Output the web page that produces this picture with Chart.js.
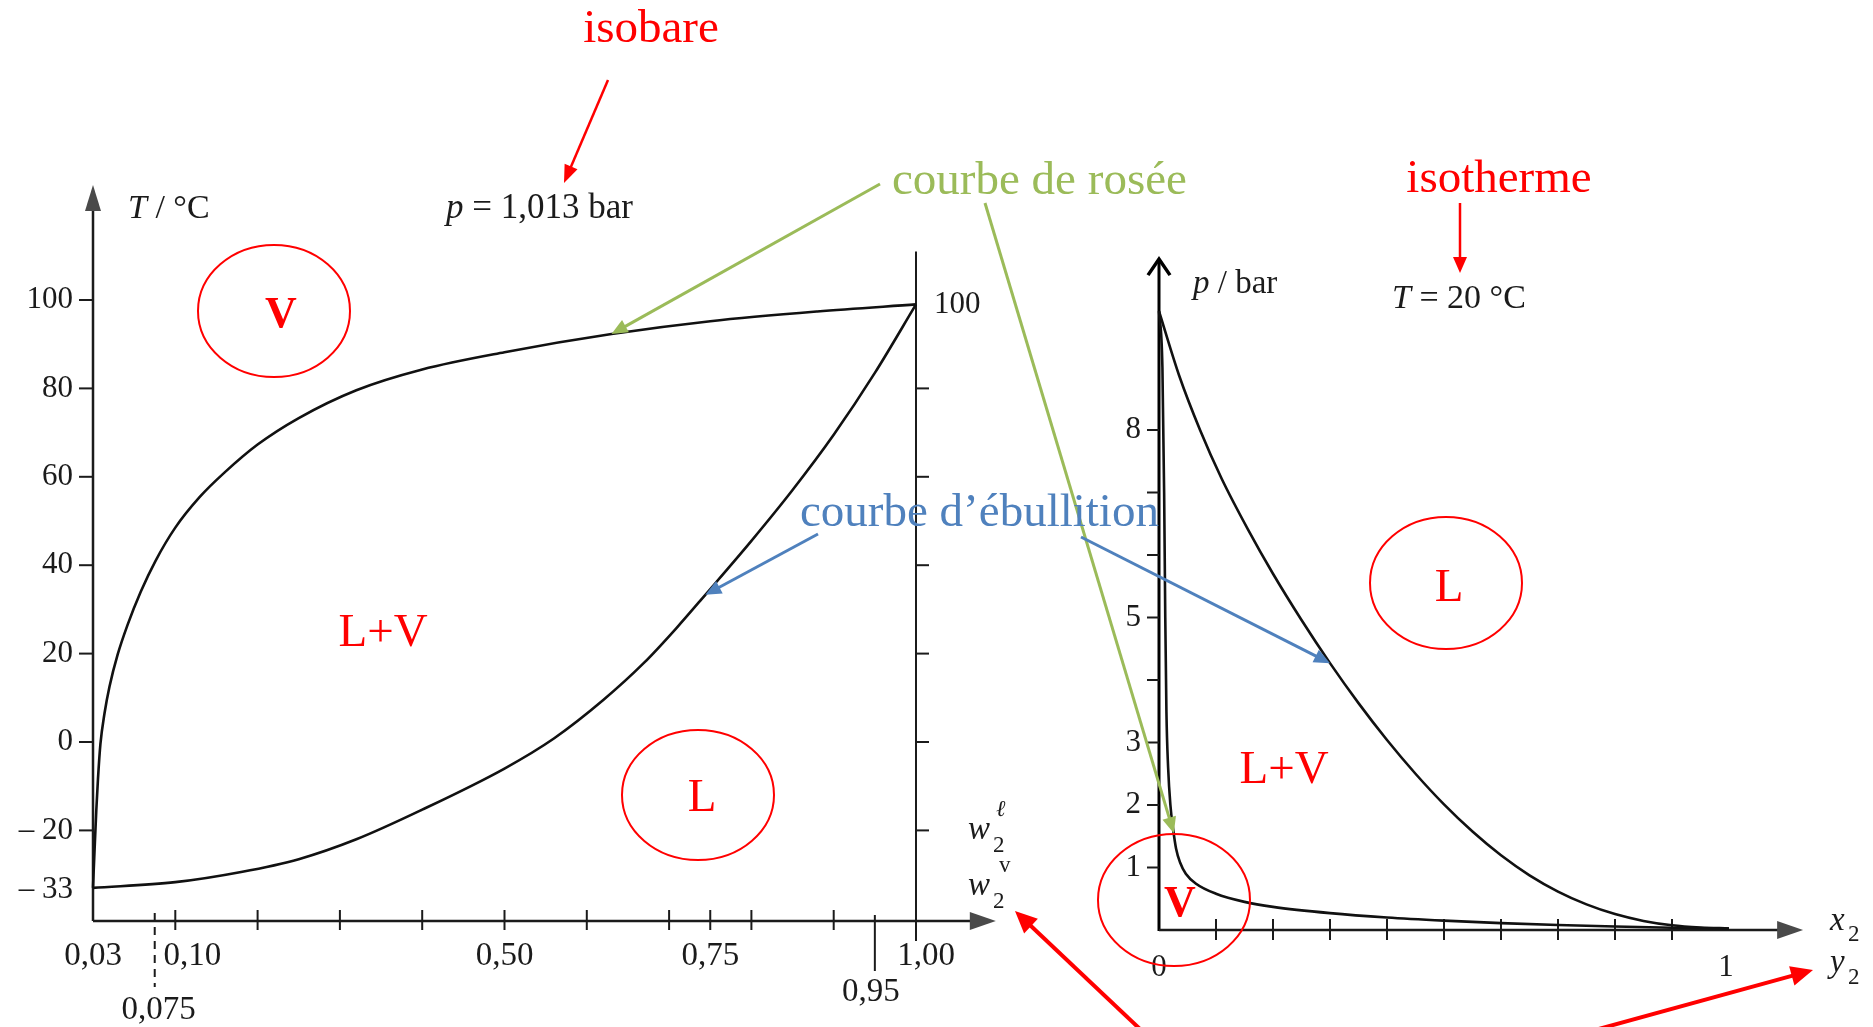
<!DOCTYPE html>
<html lang="fr">
<head>
<meta charset="utf-8">
<title>NH3 / H2O : isobare et isotherme</title>
<script src="https://cdn.jsdelivr.net/npm/chart.js@4.4.1/dist/chart.umd.min.js"></script>
<style>
  html, body { margin: 0; padding: 0; background: #fff; }
  #diagram { display: block; }
</style>
</head>
<body>
<canvas id="diagram" width="1873" height="1027"></canvas>
<script>
// Isobar p = 1,013 bar: water mass fraction w2 against temperature (°C)
const dewW2 = [0, 0.002, 0.004, 0.006, 0.009, 0.014, 0.02, 0.03, 0.042, 0.058, 0.076, 0.1, 0.13, 0.16, 0.2, 0.25, 0.32, 0.4, 0.5, 0.63, 0.75, 0.88, 1.0];
const dewT = [-33, -24, -15.5, -8.5, -0.5, 6.5, 12.5, 19.8, 26.5, 34, 41, 48.5, 55.5, 61, 67.3, 73.3, 79.6, 84.3, 88.2, 92.3, 95.2, 97.4, 99];
const bubbleW2 = [0, 0.1, 0.18, 0.25, 0.32, 0.4, 0.5, 0.56, 0.62, 0.67, 0.71, 0.744, 0.8, 0.85, 0.9, 0.95, 1.0];
const bubbleT = [-33, -31.7, -29.4, -26.5, -22, -15.3, -6, 0.8, 9.5, 18, 26, 33.3, 45.5, 57, 69.5, 83.5, 99];

// Isotherm T = 20 °C: mole fraction x2 / y2 against pressure (bar)
const dewY2 = [0, 0.006, 0.009, 0.011, 0.013, 0.016, 0.02, 0.025, 0.03, 0.037, 0.047, 0.065, 0.1, 0.15, 0.2, 0.3, 0.4, 0.5, 0.6, 0.7, 0.8, 0.9, 1.0];
const dewP = [9.9, 9.0, 7.0, 5.0, 3.5, 2.6, 2.0, 1.6, 1.3, 1.08, 0.9, 0.74, 0.58, 0.45, 0.37, 0.27, 0.2, 0.15, 0.11, 0.08, 0.055, 0.035, 0.023];
const bubbleX2 = [0, 0.035, 0.072, 0.11, 0.156, 0.2, 0.25, 0.3, 0.35, 0.4, 0.45, 0.5, 0.55, 0.6, 0.65, 0.7, 0.75, 0.8, 0.85, 0.9, 0.95, 1.0];
const bubbleP = [9.9, 8.88, 8.0, 7.22, 6.41, 5.7, 4.96, 4.27, 3.63, 3.04, 2.5, 2.01, 1.575, 1.195, 0.875, 0.615, 0.41, 0.255, 0.145, 0.075, 0.04, 0.025];

// graduations of the isobar
const tempTicks = [100, 80, 60, 40, 20, 0, -20];
const tempLabels = ['100', '80', '60', '40', '20', '0', '\u2013 20'];
const tempWallTicks = [80, 60, 40, 20, 0, -20];
const w2Ticks = [0.1, 0.2, 0.3, 0.4, 0.5, 0.6, 0.7, 0.75, 0.8, 0.9];
const w2LabelValues = [0, 0.1, 0.5, 0.75, 1.0];
const w2Labels = ['0,03', '0,10', '0,50', '0,75', '1,00'];

// graduations of the isotherm
const pTicks = [1, 2, 3, 4, 5, 6, 7, 8];
const pLabelValues = [1, 2, 3, 5, 8];
const pLabels = ['1', '2', '3', '5', '8'];
const x2Ticks = [0.1, 0.2, 0.3, 0.4, 0.5, 0.6, 0.7, 0.8, 0.9];
const x2LabelValues = [0, 1];
const x2Labels = ['0', '1'];

const canvas = document.getElementById('diagram');
const W = canvas.width, H = canvas.height;
const SERIF = '"Liberation Serif", "Times New Roman", serif';
const INK = '#1b1b1b';
const RED = '#ff0000', GREEN = '#9bbb59', BLUE = '#4f81bd';

// page placement: two pixel positions and the values they stand for
const isobarFrame = { px: [93, 916], w: [0, 1], py: [742, 300], t: [0, 100] };
const isothermFrame = { px: [1159, 1729], x: [0, 1], py: [930, 430], p: [0, 8] };
const isobarAxes = { tBottom: -40.5, tTop: 126, wEnd: 1.097, wallTop: 111, wallBottom: -45 };
const isothermAxes = { pTop: 10.75, xEnd: 1.13 };

function spanFor(p, v, size) {
  const k = (v[1] - v[0]) / (p[1] - p[0]);
  return { atStart: v[0] - p[0] * k, atEnd: v[0] + (size - p[0]) * k };
}
const x1Span = spanFor(isobarFrame.px, isobarFrame.w, W);
const y1Span = spanFor(isobarFrame.py, isobarFrame.t, H);
const x2Span = spanFor(isothermFrame.px, isothermFrame.x, W);
const y2Span = spanFor(isothermFrame.py, isothermFrame.p, H);

const toPoints = (xs, ys) => xs.map((x, i) => ({ x: x, y: ys[i] }));

// ---- small drawing helpers ----
function put(ctx, str, x, y, size, o) {
  o = o || {};
  ctx.save();
  ctx.font = (o.italic ? 'italic ' : '') + (o.bold ? 'bold ' : '') + size + 'px ' + SERIF;
  ctx.fillStyle = o.color || INK;
  ctx.textAlign = o.align || 'left';
  ctx.textBaseline = 'middle';
  ctx.fillText(str, x, y);
  ctx.restore();
}

function putRuns(ctx, parts, x, y, size) {
  let cx = x;
  parts.forEach(function (part) {
    ctx.save();
    ctx.font = (part[1] ? 'italic ' : '') + size + 'px ' + SERIF;
    ctx.fillStyle = INK;
    ctx.textBaseline = 'middle';
    ctx.fillText(part[0], cx, y);
    cx += ctx.measureText(part[0]).width;
    ctx.restore();
  });
}

function seg(ctx, x0, y0, x1, y1, width, color, dash) {
  ctx.save();
  ctx.strokeStyle = color;
  ctx.lineWidth = width;
  ctx.setLineDash(dash || []);
  ctx.beginPath();
  ctx.moveTo(x0, y0);
  ctx.lineTo(x1, y1);
  ctx.stroke();
  ctx.restore();
}

function head(ctx, x0, y0, x1, y1, len, half, color) {
  const a = Math.atan2(y1 - y0, x1 - x0);
  const c = Math.cos(a), s = Math.sin(a);
  ctx.save();
  ctx.fillStyle = color;
  ctx.beginPath();
  ctx.moveTo(x1, y1);
  ctx.lineTo(x1 - len * c + half * s, y1 - len * s - half * c);
  ctx.lineTo(x1 - len * c - half * s, y1 - len * s + half * c);
  ctx.closePath();
  ctx.fill();
  ctx.restore();
}

function arrow(ctx, x0, y0, x1, y1, width, color, len, half) {
  const a = Math.atan2(y1 - y0, x1 - x0);
  seg(ctx, x0, y0, x1 - len * 0.7 * Math.cos(a), y1 - len * 0.7 * Math.sin(a), width, color);
  head(ctx, x0, y0, x1, y1, len, half, color);
}

function ring(ctx, cx, cy, rx, ry) {
  ctx.save();
  ctx.strokeStyle = RED;
  ctx.lineWidth = 2;
  ctx.beginPath();
  ctx.ellipse(cx, cy, rx, ry, 0, 0, Math.PI * 2);
  ctx.stroke();
  ctx.restore();
}

// ---- axes of the isobar (T against w2) ----
function drawIsobarAxes(chart) {
  const ctx = chart.ctx;
  const X = v => chart.scales.x1.getPixelForValue(v);
  const Y = v => chart.scales.y1.getPixelForValue(v);
  const x0 = X(0), xEnd = X(isobarAxes.wEnd);
  const yBase = Y(isobarAxes.tBottom), yTop = Y(isobarAxes.tTop);

  seg(ctx, x0, yBase, x0, yTop + 18, 2.5, INK);
  head(ctx, x0, yBase, x0, yTop, 26, 8, '#4a4a4a');
  seg(ctx, x0, yBase, xEnd - 18, yBase, 2.5, INK);
  head(ctx, x0, yBase, xEnd, yBase, 26, 9, '#4a4a4a');

  tempTicks.forEach(function (t, i) {
    seg(ctx, x0 - 14, Y(t), x0, Y(t), 2, INK);
    put(ctx, tempLabels[i], x0 - 20, Y(t), 31, { align: 'right' });
  });
  put(ctx, '\u2013 33', x0 - 20, Y(-33.5), 31, { align: 'right' });

  w2Ticks.forEach(function (w) { seg(ctx, X(w), yBase - 11, X(w), yBase + 9, 2, INK); });
  seg(ctx, x0, yBase - 10, x0, yBase, 2, INK);
  seg(ctx, X(0.95), yBase - 6, X(0.95), yBase + 50, 2, INK);
  seg(ctx, X(0.075), yBase - 8, X(0.075), yBase + 66, 2, INK, [8, 6]);

  // vertical wall at w2 = 1
  const xw = X(1);
  seg(ctx, xw, Y(isobarAxes.wallTop), xw, Y(isobarAxes.wallBottom), 2, INK);
  tempWallTicks.forEach(function (t) { seg(ctx, xw, Y(t), xw + 13, Y(t), 2, INK); });
  put(ctx, '100', xw + 18, Y(99), 31);

  const shift = { '0,10': 17, '1,00': 10 };
  w2LabelValues.forEach(function (w, i) {
    put(ctx, w2Labels[i], X(w) + (shift[w2Labels[i]] || 0), yBase + 35, 33, { align: 'center' });
  });
  put(ctx, '0,95', X(0.95) - 4, yBase + 71, 33, { align: 'center' });
  put(ctx, '0,075', X(0.075) + 4, yBase + 89, 33, { align: 'center' });

  putRuns(ctx, [['T', true], [' / \u00b0C', false]], x0 + 35, 209, 34);
  putRuns(ctx, [['p', true], [' = 1,013 bar', false]], 446, 209, 35);

  // composition labels w2 (liquid / vapour)
  put(ctx, 'w', 968, 830, 33, { italic: true });
  put(ctx, '\u2113', 996, 810, 23, { italic: true });
  put(ctx, '2', 993, 846, 23);
  put(ctx, 'w', 968, 886, 33, { italic: true });
  put(ctx, 'v', 999, 866, 23);
  put(ctx, '2', 993, 902, 23);
}

// ---- axes of the isotherm (p against x2 / y2) ----
function drawIsothermAxes(chart) {
  const ctx = chart.ctx;
  const X = v => chart.scales.x2.getPixelForValue(v);
  const Y = v => chart.scales.y2.getPixelForValue(v);
  const x0 = X(0), y0 = Y(0), xEnd = X(isothermAxes.xEnd), yTop = Y(isothermAxes.pTop);

  seg(ctx, x0, y0 + 1, x0, yTop + 2, 3, '#000');
  ctx.save();
  ctx.strokeStyle = '#000';
  ctx.lineWidth = 3.5;
  ctx.beginPath();
  ctx.moveTo(x0 - 11, yTop + 17);
  ctx.lineTo(x0, yTop + 1);
  ctx.lineTo(x0 + 11, yTop + 17);
  ctx.stroke();
  ctx.restore();

  seg(ctx, x0, y0, xEnd - 18, y0, 2.5, INK);
  head(ctx, x0, y0, xEnd, y0, 26, 9, '#4a4a4a');

  pTicks.forEach(function (p) { seg(ctx, x0 - 12, Y(p), x0, Y(p), 2, INK); });
  pLabelValues.forEach(function (p, i) {
    put(ctx, pLabels[i], x0 - 18, Y(p), 31, { align: 'right' });
  });
  x2Ticks.forEach(function (x) { seg(ctx, X(x), y0 - 11, X(x), y0 + 10, 2, INK); });
  x2LabelValues.forEach(function (x, i) {
    put(ctx, x2Labels[i], X(x) - 3 * i, y0 + 38, 31, { align: 'center' });
  });

  putRuns(ctx, [['p', true], [' / bar', false]], x0 + 34, 284, 33);
  putRuns(ctx, [['T', true], [' = 20 \u00b0C', false]], 1392, 299, 34);

  put(ctx, 'x', 1830, 921, 33, { italic: true });
  put(ctx, '2', 1848, 935, 23);
  put(ctx, 'y', 1830, 963, 33, { italic: true });
  put(ctx, '2', 1848, 978, 23);
}

// ---- coloured notes on top of both diagrams ----
function drawNotes(chart) {
  const ctx = chart.ctx;
  const s = chart.scales;
  const at = (xs, ys, x, y) => [s[xs].getPixelForValue(x), s[ys].getPixelForValue(y)];

  put(ctx, 'isobare', 651, 30, 47, { color: RED, align: 'center' });
  arrow(ctx, 608, 80, 564, 183, 2.5, RED, 18, 7);
  put(ctx, 'isotherme', 1499, 180, 47, { color: RED, align: 'center' });
  arrow(ctx, 1460, 203, 1460, 273, 2.5, RED, 16, 7);

  put(ctx, 'courbe de ros\u00e9e', 892, 182, 47, { color: GREEN });
  const dewTip1 = at('x1', 'y1', 0.63, 92.3);
  arrow(ctx, 880, 184, dewTip1[0], dewTip1[1], 3, GREEN, 16, 7);
  const dewTip2 = at('x2', 'y2', 0.026, 1.55);
  arrow(ctx, 985, 203, dewTip2[0], dewTip2[1], 3, GREEN, 16, 7);

  put(ctx, 'courbe d\u2019\u00e9bullition', 800, 514, 47, { color: BLUE });
  const bubTip1 = at('x1', 'y1', 0.744, 33.3);
  arrow(ctx, 818, 534, bubTip1[0], bubTip1[1], 3, BLUE, 16, 7);
  const bubTip2 = at('x2', 'y2', 0.30, 4.27);
  arrow(ctx, 1081, 537, bubTip2[0], bubTip2[1], 3, BLUE, 16, 7);

  arrow(ctx, 1141, 1030, 1015, 911, 4, RED, 22, 10);
  arrow(ctx, 1595, 1030, 1813, 970, 4, RED, 22, 10);

  // phase regions
  ring(ctx, 274, 311, 76, 66);
  put(ctx, 'V', 281, 316, 44, { color: RED, bold: true, align: 'center' });
  put(ctx, 'L+V', 383, 634, 47, { color: RED, align: 'center' });
  ring(ctx, 698, 795, 76, 65);
  put(ctx, 'L', 702, 799, 47, { color: RED, align: 'center' });

  ring(ctx, 1446, 583, 76, 66);
  put(ctx, 'L', 1449, 589, 47, { color: RED, align: 'center' });
  put(ctx, 'L+V', 1284, 771, 47, { color: RED, align: 'center' });
  ring(ctx, 1174, 900, 76, 66);
  put(ctx, 'V', 1180, 905, 44, { color: RED, bold: true, align: 'center' });
}

const figurePlugin = {
  id: 'figure',
  beforeDatasetsDraw(chart) {
    drawIsobarAxes(chart);
    drawIsothermAxes(chart);
  },
  afterDatasetsDraw(chart) {
    drawNotes(chart);
  }
};

function curve(label, xs, ys, xId, yId) {
  return {
    label: label,
    data: toPoints(xs, ys),
    xAxisID: xId,
    yAxisID: yId,
    showLine: true,
    borderColor: '#111',
    borderWidth: 2.6,
    pointRadius: 0,
    cubicInterpolationMode: 'monotone',
    clip: false
  };
}

const hidden = (axis, min, max) => ({ type: 'linear', axis: axis, display: false, min: min, max: max });

new Chart(canvas, {
  type: 'scatter',
  data: {
    datasets: [
      curve('courbe de rosée (isobare)', dewW2, dewT, 'x1', 'y1'),
      curve('courbe d’ébullition (isobare)', bubbleW2, bubbleT, 'x1', 'y1'),
      curve('courbe de rosée (isotherme)', dewY2, dewP, 'x2', 'y2'),
      curve('courbe d’ébullition (isotherme)', bubbleX2, bubbleP, 'x2', 'y2')
    ]
  },
  options: {
    responsive: false,
    animation: false,
    devicePixelRatio: 1,
    events: [],
    layout: { padding: 0 },
    plugins: { legend: { display: false }, tooltip: { enabled: false } },
    scales: {
      x1: hidden('x', x1Span.atStart, x1Span.atEnd),
      y1: hidden('y', y1Span.atEnd, y1Span.atStart),
      x2: hidden('x', x2Span.atStart, x2Span.atEnd),
      y2: hidden('y', y2Span.atEnd, y2Span.atStart)
    }
  },
  plugins: [figurePlugin]
});
</script>
</body>
</html>
